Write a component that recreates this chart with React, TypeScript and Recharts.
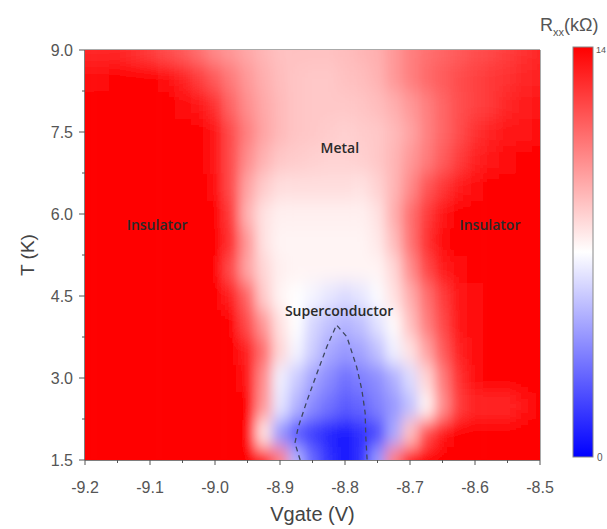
import React from 'react';
import { ScatterChart, Scatter, XAxis, YAxis, ReferenceArea, ReferenceDot } from 'recharts';

// gate voltage grid (V) and temperature grid (K)
const VGATE = [
  -9.2, -9.175, -9.15, -9.125, -9.1, -9.075, -9.05, -9.025, -9.0, -8.975, -8.95, -8.925, -8.9, -8.875, -8.85,
  -8.825, -8.8, -8.775, -8.75, -8.725, -8.7, -8.675, -8.65, -8.625, -8.6, -8.575, -8.55, -8.525, -8.5,
];
const TEMPS = [1.5, 2.0, 2.5, 3.0, 3.5, 4.0, 4.5, 5.0, 5.5, 6.0, 6.5, 7.0, 7.5, 8.0, 8.5, 9.0];

// Rxx (kOhm), one row per temperature, lowest T first
const RXX = [
  [14, 14, 14, 14, 14, 14, 14, 14, 14, 14, 14, 14, 10.5, 4.9, 2.8, 1.4, 0.7, 1.4, 4.2, 10.5, 14, 14, 14, 14, 14, 14, 14, 14, 14],
  [14, 14, 14, 14, 14, 14, 14, 14, 14, 14, 14, 7.7, 4.2, 2.5, 1.7, 1.1, 0.7, 1.4, 2.1, 4.6, 8.7, 11.9, 13.3, 14, 14, 14, 14, 14, 14],
  [14, 14, 14, 14, 14, 14, 14, 14, 14, 14, 14, 9.8, 6.3, 4.9, 3.8, 3.1, 2.5, 2.8, 3.5, 4.2, 5.3, 7.3, 10.1, 12.3, 12.9, 12.9, 12.9, 13.4, 14],
  [14, 14, 14, 14, 14, 14, 14, 14, 14, 14, 13.3, 10.1, 6.6, 5.6, 4.5, 3.8, 3.1, 3.5, 3.9, 4.8, 6.0, 8.1, 10.6, 12.6, 13.6, 14, 14, 14, 14],
  [14, 14, 14, 14, 14, 14, 14, 14, 14, 14, 13.0, 10.9, 8.1, 6.7, 5.6, 4.6, 4.2, 4.5, 5.3, 6.6, 7.8, 9.5, 11.5, 13.0, 13.7, 14, 14, 14, 14],
  [14, 14, 14, 14, 14, 14, 14, 14, 14, 14, 11.9, 9.8, 7.8, 7.0, 5.9, 5.3, 4.9, 5.3, 6.2, 7.1, 8.7, 10.5, 12.0, 13.3, 13.7, 14, 14, 14, 14],
  [14, 14, 14, 14, 14, 14, 14, 14, 14, 13.0, 11.2, 8.4, 7.3, 7.0, 6.7, 6.3, 6.0, 6.3, 6.9, 7.8, 9.2, 10.9, 12.3, 13.3, 13.7, 14, 14, 14, 14],
  [14, 14, 14, 14, 14, 14, 14, 14, 14, 11.9, 9.5, 8.1, 7.4, 7.3, 7.3, 7.3, 7.3, 7.3, 7.3, 8.1, 10.1, 12.0, 13.2, 13.6, 14, 14, 14, 14, 14],
  [14, 14, 14, 14, 14, 14, 14, 14, 14, 12.6, 9.8, 7.8, 7.3, 7.3, 7.3, 7.3, 7.3, 7.3, 7.6, 8.8, 10.8, 12.6, 13.7, 14, 14, 14, 14, 14, 14],
  [14, 14, 14, 14, 14, 14, 14, 14, 14, 12.3, 9.1, 7.8, 7.4, 7.4, 7.4, 7.4, 7.4, 7.4, 7.8, 9.2, 10.9, 12.3, 13.4, 14, 14, 14, 14, 14, 14],
  [14, 14, 14, 14, 14, 14, 14, 14, 13.6, 11.9, 9.5, 8.4, 7.9, 7.9, 7.9, 7.9, 7.9, 7.8, 8.2, 9.0, 10.2, 11.6, 12.5, 13.2, 13.7, 14, 14, 14, 14],
  [14, 14, 14, 14, 14, 14, 14, 14, 13.3, 11.9, 10.1, 9.1, 8.5, 8.4, 8.3, 8.2, 8.2, 8.3, 8.5, 9.0, 9.8, 10.6, 11.5, 12.3, 13.0, 13.4, 13.6, 13.9, 14],
  [14, 14, 14, 14, 14, 14, 14, 14, 13.3, 11.9, 10.5, 9.5, 8.9, 8.6, 8.5, 8.4, 8.3, 8.4, 8.5, 8.9, 9.5, 10.4, 11.2, 11.9, 12.6, 13.0, 13.3, 13.4, 13.6],
  [14, 14, 14, 14, 14, 14, 13.7, 13.3, 12.6, 11.2, 10.1, 9.4, 8.9, 8.6, 8.5, 8.5, 8.5, 8.6, 8.8, 9.2, 9.8, 10.5, 11.2, 11.8, 12.2, 12.5, 12.9, 13.2, 13.3],
  [13.6, 13.7, 14, 14, 14, 13.6, 13.0, 12.3, 11.5, 10.6, 9.8, 9.2, 8.8, 8.6, 8.5, 8.5, 8.7, 8.8, 9.1, 9.8, 10.5, 11.1, 11.5, 11.9, 12.2, 12.5, 12.6, 12.9, 13.0],
  [12.9, 12.9, 12.9, 12.6, 12.3, 11.9, 11.5, 10.9, 10.2, 9.8, 9.4, 9.0, 8.7, 8.7, 8.7, 8.7, 8.8, 9.0, 9.2, 9.8, 10.5, 10.9, 11.2, 11.5, 11.8, 12.0, 12.3, 12.6, 12.9],
];

// superconducting dome (dashed)
const DOME_V = [-8.869, -8.877, -8.872, -8.858, -8.843, -8.828, -8.813, -8.797, -8.782, -8.774, -8.769, -8.768, -8.766];
const DOME_T = [1.5, 1.81, 2.1, 2.6, 3.09, 3.57, 3.97, 3.75, 3.2, 2.78, 2.36, 1.92, 1.5];

const REGION_NAMES = ['Insulator', 'Metal', 'Insulator', 'Superconductor'];
const REGION_V = [-9.089, -8.808, -8.577, -8.809];
const REGION_T = [5.8, 7.21, 5.8, 4.23];

const X_TICKS = [-9.2, -9.15, -9.1, -9.05, -9.0, -8.95, -8.9, -8.85, -8.8, -8.75, -8.7, -8.65, -8.6, -8.55, -8.5];
const Y_TICKS = [1.5, 2.25, 3.0, 3.75, 4.5, 5.25, 6.0, 6.75, 7.5, 8.25, 9.0];
const Y_MAJOR = [1.5, 3.0, 4.5, 6.0, 7.5, 9.0];
const RXX_MAX = 14;

const heatData = RXX.flatMap((row, i) => row.map((v, j) => ({ x: VGATE[j], y: TEMPS[i], v })));
const domeData = DOME_V.map((x, i) => ({ x, y: DOME_T[i] }));

const W = 607;
const H = 529;
const M = { top: 50, right: 67, bottom: 9, left: 25 };
const PLOT_W = W - M.left - M.right - 60;
const PLOT_H = H - M.top - M.bottom - 60;
const CW = PLOT_W / (VGATE.length - 1);
const CH = PLOT_H / (TEMPS.length - 1);
const PAD = 40;

const FONT = '"Liberation Sans", Arial, sans-serif';
const AXIS = '#555';

const rxxColor = (r: number) => {
  const f = Math.max(0, Math.min(1, r / RXX_MAX));
  if (f < 0.5) {
    const c = Math.round(255 * (f / 0.5));
    return `rgb(${c},${c},255)`;
  }
  const c = Math.round(255 * (1 - (f - 0.5) / 0.5));
  return `rgb(255,${c},${c})`;
};

const HeatCell = (p: any) => {
  const { cx, cy, payload } = p;
  let x0 = cx - CW / 2, x1 = cx + CW / 2, y0 = cy - CH / 2, y1 = cy + CH / 2;
  if (payload.x === VGATE[0]) x0 -= PAD;
  if (payload.x === VGATE[VGATE.length - 1]) x1 += PAD;
  if (payload.y === TEMPS[TEMPS.length - 1]) y0 -= PAD;
  if (payload.y === TEMPS[0]) y1 += PAD;
  return <rect x={x0} y={y0} width={x1 - x0 + 0.6} height={y1 - y0 + 0.6} fill={rxxColor(payload.v)} />;
};

const XTick = ({ x, y, payload }: any) => {
  const v = payload.value;
  const major = Math.abs(v * 10 - Math.round(v * 10)) < 1e-6;
  return (
    <g>
      <line x1={x} x2={x} y1={y} y2={y + (major ? 5 : 3)} stroke={AXIS} />
      {major && (
        <text x={x} y={y + 33} textAnchor="middle" fontSize={16} fill={AXIS} fontFamily={FONT}>
          {v.toFixed(1)}
        </text>
      )}
    </g>
  );
};

const YTick = ({ x, y, payload }: any) => {
  const v = payload.value;
  const major = Y_MAJOR.includes(v);
  return (
    <g>
      <line x1={x - (major ? 6 : 3)} x2={x} y1={y} y2={y} stroke={AXIS} />
      {major && (
        <text x={x - 12} y={y + 6} textAnchor="end" fontSize={16} fill={AXIS} fontFamily={FONT}>
          {v.toFixed(1)}
        </text>
      )}
    </g>
  );
};

const ColorBar = () => (
  <svg width={W} height={H} style={{ position: 'absolute', left: 0, top: 0, pointerEvents: 'none' }}>
    <defs>
      <linearGradient id="rxxBar" x1="0" y1="0" x2="0" y2="1">
        <stop offset="0%" stopColor="#ff0000" />
        <stop offset="50%" stopColor="#ffffff" />
        <stop offset="100%" stopColor="#0000ff" />
      </linearGradient>
    </defs>
    <rect x={573} y={47} width={20} height={410} fill="url(#rxxBar)" stroke="#888" strokeWidth={1} />
    <text x={596} y={53} fontSize={9} fill={AXIS} fontFamily={FONT}>14</text>
    <text x={597} y={461} fontSize={10} fill={AXIS} fontFamily={FONT}>0</text>
    <text x={540} y={31} fontSize={18} fill={AXIS} fontFamily={FONT}>
      R<tspan fontSize={11} dy={5}>xx</tspan><tspan dy={-5}>(kΩ)</tspan>
    </text>
  </svg>
);

export default function App() {
  return (
    <div style={{ position: 'absolute', left: 0, top: 0, width: W, height: H, background: '#fff' }}>
      <style>{`.heat { filter: url(#heatBlur); }`}</style>
      <ScatterChart width={W} height={H} margin={M}>
        <defs>
          <filter id="heatBlur" filterUnits="userSpaceOnUse" x={0} y={0} width={W} height={H}>
            <feGaussianBlur stdDeviation="6 9" />
          </filter>
        </defs>
        <XAxis
          type="number"
          dataKey="x"
          domain={[-9.2, -8.5]}
          ticks={X_TICKS}
          allowDataOverflow
          height={60}
          tickSize={0}
          tickMargin={0}
          tickLine={false}
          tick={<XTick />}
          interval={0}
          stroke={AXIS}
          label={{
            content: ({ viewBox }: any) => (
              <text x={viewBox.x + viewBox.width / 2} y={viewBox.y + 61} textAnchor="middle" fontSize={20} fill="#444" fontFamily={FONT}>
                Vgate (V)
              </text>
            ),
          }}
        />
        <YAxis
          type="number"
          dataKey="y"
          domain={[1.5, 9.0]}
          ticks={Y_TICKS}
          allowDataOverflow
          width={60}
          tickSize={0}
          tickMargin={0}
          tickLine={false}
          tick={<YTick />}
          interval={0}
          stroke={AXIS}
          label={{
            content: ({ viewBox }: any) => (
              <text
                x={viewBox.x + 2}
                y={viewBox.y + viewBox.height / 2}
                transform={`rotate(-90 ${viewBox.x + 2} ${viewBox.y + viewBox.height / 2})`}
                textAnchor="middle"
                dominantBaseline="central"
                fontSize={19}
                fill="#444"
                fontFamily={FONT}
              >
                T (K)
              </text>
            ),
          }}
        />
        <Scatter className="heat" data={heatData} shape={<HeatCell />} isAnimationActive={false} />
        <ReferenceArea x1={-9.2} x2={-8.5} y1={1.5} y2={9.0} fill="none" stroke={AXIS} strokeOpacity={1} />
        <Scatter
          data={domeData}
          line={{ stroke: '#3d465e', strokeWidth: 1.3, strokeDasharray: '5 4' }}
          lineType="joint"
          shape={() => <g />}
          isAnimationActive={false}
        />
        {REGION_NAMES.map((name, i) => (
          <ReferenceDot
            key={i}
            x={REGION_V[i]}
            y={REGION_T[i]}
            r={0}
            stroke="none"
            fill="none"
            label={{ value: name, position: 'center', fill: '#2a2a2a', fontSize: 14, fontWeight: 600, fontFamily: '"Open Sans", sans-serif' }}
          />
        ))}
      </ScatterChart>
      <ColorBar />
    </div>
  );
}
